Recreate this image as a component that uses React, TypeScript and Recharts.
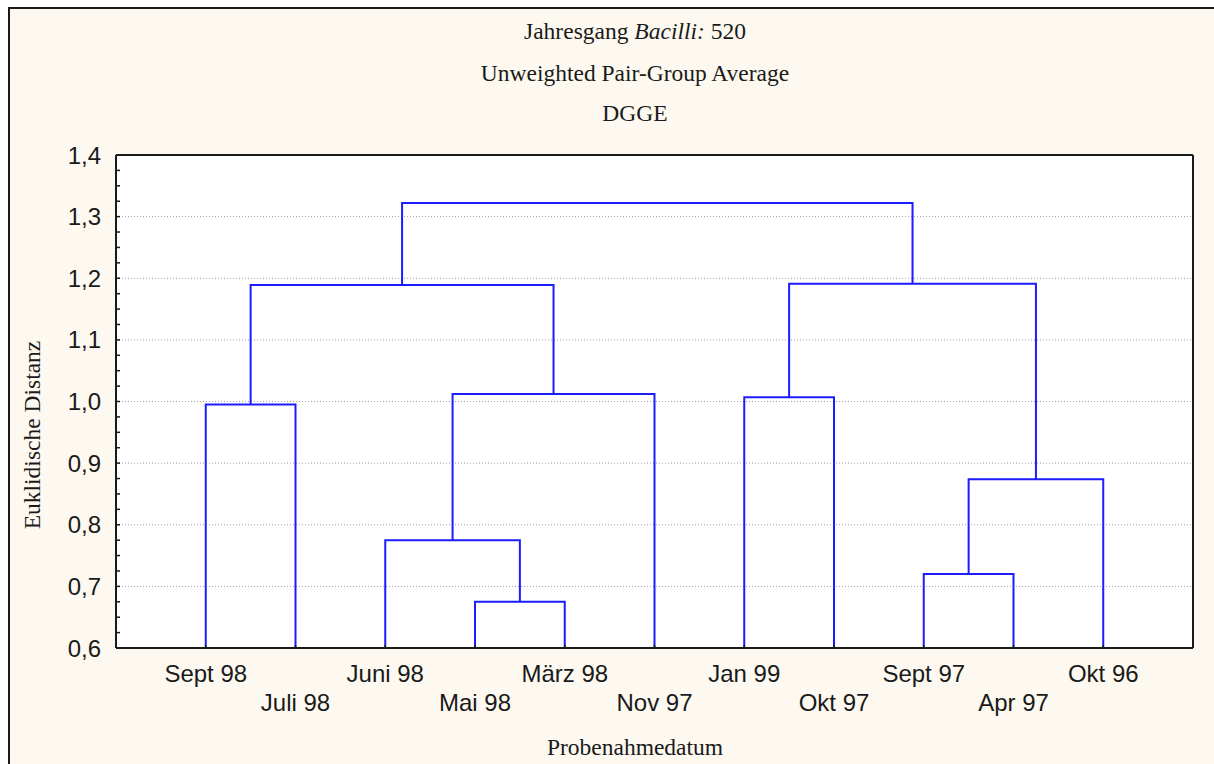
import React from 'react';
import { LineChart, Line, XAxis, YAxis, CartesianGrid, ReferenceLine } from 'recharts';

const leaves = ['Sept 98', 'Juli 98', 'Juni 98', 'Mai 98', 'März 98', 'Nov 97', 'Jan 99', 'Okt 97', 'Sept 97', 'Apr 97', 'Okt 96'];

// linkage: ids 0..10 are the leaves, 11 + k is the cluster made by merge k
const mergeA = [3, 8, 2, 12, 0, 6, 13, 15, 16, 18];
const mergeB = [4, 9, 11, 10, 1, 7, 5, 17, 14, 19];
const mergeHeight = [0.675, 0.72, 0.775, 0.874, 0.995, 1.007, 1.012, 1.189, 1.191, 1.322];

const yTicks = [0.6, 0.7, 0.8, 0.9, 1.0, 1.1, 1.2, 1.3, 1.4];
const leafTicks = leaves.map((_, i) => i + 1);

const yMinorTicks = yTicks.flatMap((v, i) =>
  i === 0 ? [v] : [1, 2, 3, 4].map((j) => yTicks[i - 1] + ((v - yTicks[i - 1]) * j) / 4)
);

type Pt = { x: number; y: number };

const nodes: { x: number; h: number }[] = leaves.map((_, i) => ({ x: i + 1, h: 0.6 }));
const links: Pt[][] = mergeHeight.map((h, k) => {
  const a = nodes[mergeA[k]];
  const b = nodes[mergeB[k]];
  nodes.push({ x: (a.x + b.x) / 2, h });
  return [
    { x: a.x, y: a.h },
    { x: a.x, y: h },
    { x: b.x, y: h },
    { x: b.x, y: b.h },
  ];
});

const INK = '#1a1a1a';
const BLUE = '#1c1cff';
const SANS = '"Liberation Sans", Arial, sans-serif';
const SERIF = '"Liberation Serif", "Times New Roman", serif';

const fmt = (v: number) => v.toFixed(1).replace('.', ',');

const LeftTick = (props: any) => {
  const { x, y, payload } = props;
  const major = yTicks.some((t) => Math.abs(t - payload.value) < 1e-6);
  const ax = x + 15;
  return (
    <g>
      <line x1={ax} x2={ax + 4} y1={y} y2={y} stroke={INK} strokeWidth={1.5} />
      {major && (
        <text x={x} y={y} textAnchor="end" dominantBaseline="central" fontFamily={SANS} fontSize={24} fill={INK}>
          {fmt(payload.value)}
        </text>
      )}
    </g>
  );
};

const RightTick = (props: any) => {
  const { x, y } = props;
  return <line x1={x - 4} x2={x} y1={y} y2={y} stroke={INK} strokeWidth={1.5} />;
};

const TopTick = (props: any) => {
  const { x, y } = props;
  return <line x1={x} x2={x} y1={y} y2={y + 4} stroke={INK} strokeWidth={1.5} />;
};

const BottomTick = (props: any) => {
  const { x, y, payload } = props;
  const i = payload.value - 1;
  return (
    <g>
      <line x1={x} x2={x} y1={y} y2={y - 3} stroke={INK} strokeWidth={1.5} />
      <text
        x={x}
        y={y + (i % 2 ? 54 : 25)}
        textAnchor="middle"
        dominantBaseline="central"
        fontFamily={SANS}
        fontSize={24}
        fill={INK}
      >
        {leaves[i]}
      </text>
    </g>
  );
};

const centered: React.CSSProperties = {
  position: 'absolute',
  transform: 'translate(-50%, -50%)',
  whiteSpace: 'nowrap',
  fontFamily: SERIF,
  fontSize: 23.5,
  lineHeight: 1,
  color: INK,
};

export default function App() {
  return (
    <div
      style={{
        position: 'fixed',
        left: 8,
        top: 7,
        right: 0,
        bottom: 0,
        boxSizing: 'border-box',
        borderLeft: `2px solid ${INK}`,
        borderTop: `2px solid ${INK}`,
        background: '#FDF9F0',
        overflow: 'hidden',
      }}
    >
      <LineChart width={1194} height={748} margin={{ top: 136, right: 10, left: 26, bottom: 19 }}>
        <CartesianGrid vertical={false} horizontal={false} fill="#ffffff" />
        <XAxis
          type="number"
          dataKey="x"
          domain={[0, 12]}
          ticks={leafTicks}
          interval={0}
          height={90}
          tickSize={0}
          tickMargin={0}
          tickLine={false}
          tick={<BottomTick />}
          axisLine={{ stroke: INK, strokeWidth: 2 }}
        />
        <XAxis
          xAxisId="t"
          orientation="top"
          type="number"
          dataKey="x"
          domain={[0, 12]}
          ticks={leafTicks}
          interval={0}
          height={10}
          tickSize={0}
          tickMargin={0}
          tickLine={false}
          tick={<TopTick />}
          axisLine={{ stroke: INK, strokeWidth: 2 }}
        />
        <YAxis
          orientation="right"
          type="number"
          domain={[0.6, 1.4]}
          ticks={yTicks}
          interval={0}
          width={1}
          tickSize={0}
          tickMargin={0}
          tickLine={false}
          tick={<RightTick />}
          axisLine={{ stroke: INK, strokeWidth: 2 }}
        />
        <YAxis
          yAxisId="l"
          type="number"
          domain={[0.6, 1.4]}
          ticks={yMinorTicks}
          interval={0}
          width={80}
          tickSize={0}
          tickMargin={15}
          tickLine={false}
          tick={<LeftTick />}
          axisLine={{ stroke: INK, strokeWidth: 2 }}
        />
        {yTicks.slice(1, -1).map((v) => (
          <ReferenceLine key={v} yAxisId="l" y={v} stroke="#a0a0a0" strokeDasharray="1 2" />
        ))}
        {links.map((pts, k) => (
          <Line
            key={k}
            yAxisId="l"
            data={pts}
            dataKey="y"
            type="linear"
            stroke={BLUE}
            strokeWidth={2}
            dot={false}
            activeDot={false}
            isAnimationActive={false}
          />
        ))}
      </LineChart>

      <div style={{ ...centered, left: 625, top: 22.5 }}>
        Jahresgang <i>Bacilli:</i> 520
      </div>
      <div style={{ ...centered, left: 625, top: 64.5 }}>Unweighted Pair-Group Average</div>
      <div style={{ ...centered, left: 625, top: 105 }}>DGGE</div>
      <div style={{ ...centered, left: 23, top: 426, transform: 'translate(-50%, -50%) rotate(-90deg)' }}>
        Euklidische Distanz
      </div>
      <div style={{ ...centered, left: 625, top: 738.5 }}>Probenahmedatum</div>
    </div>
  );
}
